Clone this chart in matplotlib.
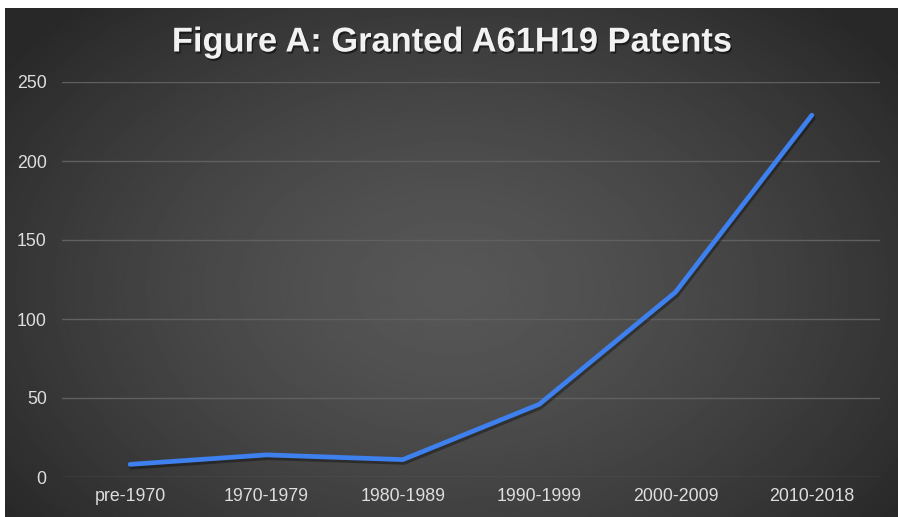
import numpy as np
import matplotlib
matplotlib.use("Agg")
import matplotlib.pyplot as plt
import matplotlib.patheffects as pe

W, H, DPI = 898, 517, 100

periods = ["pre-1970", "1970-1979", "1980-1989", "1990-1999", "2000-2009", "2010-2018"]
patents = [8, 14, 11, 46, 117, 229]
y_ticks = [0, 50, 100, 150, 200, 250]

plt.rcParams["font.family"] = ["Liberation Sans", "DejaVu Sans"]

fig = plt.figure(figsize=(W / DPI, H / DPI), dpi=DPI, facecolor="white")

# dark radial gradient backdrop (small white margin top/left like the source)
bg = fig.add_axes([5 / W, 0, 1 - 5 / W, 1 - 8 / H])
bg.set_axis_off()
yy, xx = np.mgrid[0:1:300j, 0:1:500j]
r = np.sqrt(((xx - 0.5) / 0.62) ** 2 + ((yy - 0.55) / 0.75) ** 2)
r = np.clip(r, 0, 1)
centre, edge = 0.34, 0.16
shade = centre + (edge - centre) * r ** 1.4
bg.imshow(shade, cmap="gray", vmin=0, vmax=1, aspect="auto",
          extent=(0, 1, 0, 1), interpolation="bilinear")

ax = fig.add_axes([62 / W, 40 / H, (880 - 62) / W, (477 - 82) / H])
ax.set_facecolor("none")

x = np.arange(len(periods))
ax.plot(x, patents, color="#3d80ee", lw=3.4, solid_joinstyle="round",
        solid_capstyle="round",
        path_effects=[pe.SimpleLineShadow(offset=(1, -2), shadow_color="black", alpha=0.35),
                      pe.Normal()])

ax.set_xlim(-0.5, len(periods) - 0.5)
ax.set_ylim(0, 250)
ax.set_xticks(x)
ax.set_xticklabels(periods)
ax.set_yticks(y_ticks)
ax.grid(axis="y", color="#606060", lw=1)
ax.set_axisbelow(True)
ax.tick_params(length=0, colors="#dedede", labelsize=12.8)
ax.tick_params(axis="x", pad=8)
ax.tick_params(axis="y", pad=11)
for s in ax.spines.values():
    s.set_visible(False)

fig.text(452 / W, 1 - 43 / H, "Figure A: Granted A61H19 Patents", ha="center", va="center",
         fontsize=24.8, fontweight="bold", color="#f2f2f2",
         path_effects=[pe.withSimplePatchShadow(offset=(1, -1.5), shadow_rgbFace="black", alpha=0.5)])

fig.savefig("out.png", dpi=DPI, facecolor="white")
